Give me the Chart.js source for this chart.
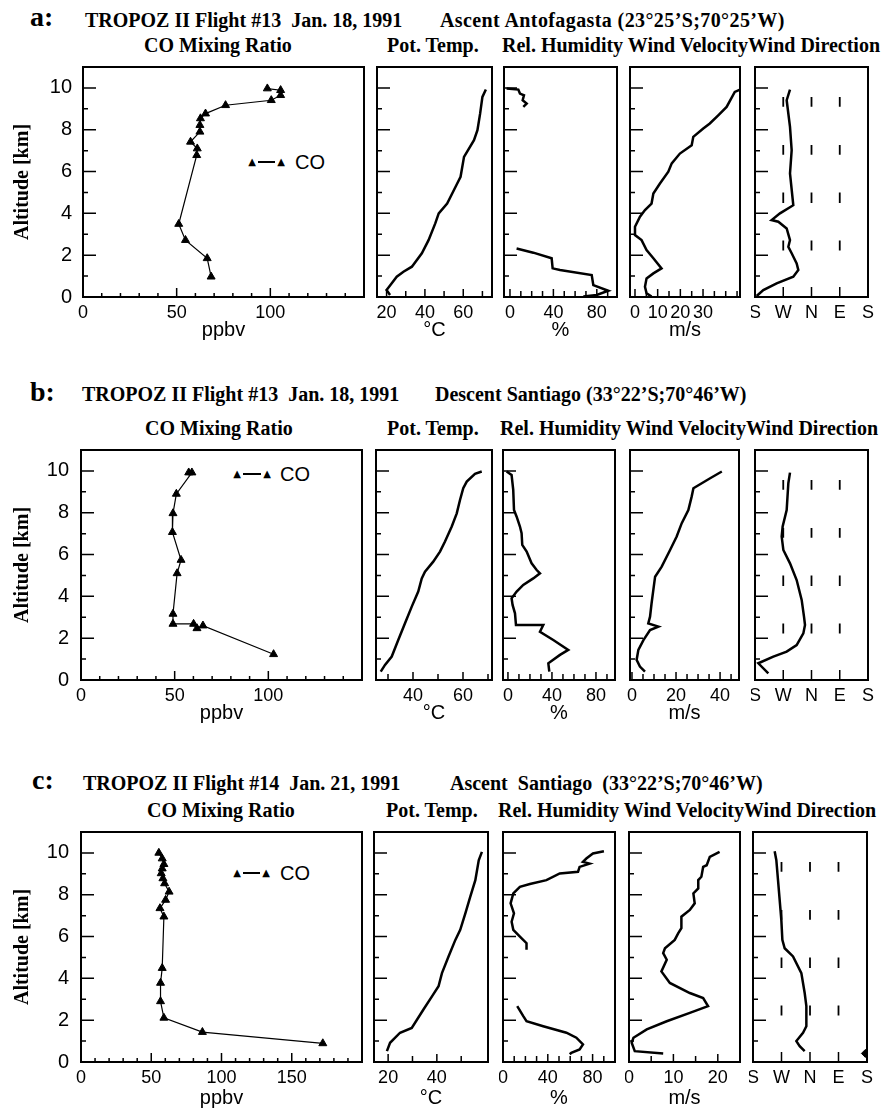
<!DOCTYPE html>
<html><head><meta charset="utf-8">
<script src="https://cdn.jsdelivr.net/npm/chart.js@4.4.0/dist/chart.umd.min.js"></script>
<style>
body{margin:0;background:#fff;width:881px;height:1114px;position:relative;overflow:hidden;}
canvas{position:absolute;}
.t{position:absolute;white-space:pre;font-family:"Liberation Serif","Times New Roman",serif;font-weight:bold;font-size:20px;line-height:20px;color:#000;}
.big{font-size:28px;line-height:28px;}
.co{position:absolute;font-family:"Liberation Sans",Arial,sans-serif;font-size:20px;line-height:20px;color:#000;}
.tri{position:absolute;width:12px;text-align:center;font-family:"DejaVu Sans",sans-serif;font-size:10px;line-height:10px;color:#000;}
.ln{position:absolute;height:1.5px;background:#000;}
</style></head><body>

<div class="t big" style="left:30px;top:3px">a:</div>
<div class="t" style="left:85px;top:10px">TROPOZ II Flight #13  Jan. 18, 1991</div>
<div class="t" style="left:440px;top:10px;letter-spacing:0.4px">Ascent Antofagasta (23°25’S;70°25’W)</div>
<div class="t" style="left:144px;top:35px">CO Mixing Ratio</div>
<div class="t" style="left:387px;top:35px">Pot. Temp.</div>
<div class="t" style="left:502px;top:35px">Rel. Humidity Wind VelocityWind Direction</div>
<div class="tri" style="left:246px;top:157px">▲</div><div class="ln" style="left:258px;width:17px;top:161px"></div><div class="tri" style="left:275px;top:157px">▲</div>
<div class="co" style="left:295px;top:152px">CO</div>

<div class="t big" style="left:30px;top:378px">b:</div>
<div class="t" style="left:82px;top:384px">TROPOZ II Flight #13  Jan. 18, 1991</div>
<div class="t" style="left:435px;top:384px">Descent Santiago (33°22’S;70°46’W)</div>
<div class="t" style="left:145px;top:418px">CO Mixing Ratio</div>
<div class="t" style="left:387px;top:418px">Pot. Temp.</div>
<div class="t" style="left:500px;top:418px">Rel. Humidity Wind VelocityWind Direction</div>
<div class="tri" style="left:231px;top:469px">▲</div><div class="ln" style="left:243px;width:18px;top:473px"></div><div class="tri" style="left:261px;top:469px">▲</div>
<div class="co" style="left:280px;top:464px">CO</div>

<div class="t big" style="left:32px;top:766px">c:</div>
<div class="t" style="left:83px;top:773px">TROPOZ II Flight #14  Jan. 21, 1991</div>
<div class="t" style="left:450px;top:773px">Ascent  Santiago  (33°22’S;70°46’W)</div>
<div class="t" style="left:147px;top:800px">CO Mixing Ratio</div>
<div class="t" style="left:386px;top:800px">Pot. Temp.</div>
<div class="t" style="left:498px;top:800px">Rel. Humidity Wind VelocityWind Direction</div>
<div class="tri" style="left:231px;top:868px">▲</div><div class="ln" style="left:243px;width:17px;top:872px"></div><div class="tri" style="left:260px;top:868px">▲</div>
<div class="co" style="left:280px;top:863px">CO</div>

<script>
// ---------------- DATA ----------------
// Altitude axis (km)
const altTicks  = [0,1,2,3,4,5,6,7,8,9,10];
const altLabels = ['0','','2','','4','','6','','8','','10'];

// Wind direction axis
const dirTicks  = [0,90,180,270,360];
const dirLabels = ['S','W','N','E','S'];
// dashed reference marks on the wind-direction panels (W, N, E)
const dirMarkDirs   = [90,180,270];
const dirMarkTop    = [9.57,7.27,5.00,2.70];
const dirMarkBottom = [9.10,6.80,4.50,2.22];

// ---- Panel a: Flight #13, Ascent Antofagasta ----
const aCO    = [98.4,105.5,105.5,100.5,76.1,65.4,62.7,62.4,62.4,57.4,61.0,60.7,51.1,54.7,66.3,68.4];
const aCOAlt = [9.97,9.89,9.65,9.41,9.17,8.77,8.54,8.22,7.90,7.42,7.10,6.78,3.49,2.72,1.85,0.97];
const aPT    = [71.8,70.0,68.8,67.4,65.6,60.4,58.6,56.0,51.6,47.2,45.4,41.9,38.4,33.2,28.8,25.3,22.6,20.0,21.8];
const aPTAlt = [9.92,9.57,8.77,7.98,7.50,6.70,5.75,5.27,4.47,4.00,3.52,2.72,2.09,1.45,1.21,0.97,0.65,0.33,0.10];
const aRH    = [-3.1,7.7,9.2,12.9,11.7,15.4,12.3,null,6.1,21.5,38.4,39.3,46.1,75.3,76.8,90.6,79.9,67.6];
const aRHAlt = [9.97,9.92,9.73,9.65,9.41,9.25,9.09,null,2.32,2.12,1.85,1.37,1.29,1.05,0.57,0.30,0.10,0.02];
const aWV    = [46.3,44.0,40.4,36.7,33.0,30.1,25.7,25.0,19.8,16.2,14.7,11.0,8.1,7.3,4.4,2.2,0,0,2.9,5.1,8.1,11.7,8.1,5.1,4.4,5.1,7.3];
const aWVAlt = [9.92,9.81,9.09,8.69,8.30,8.06,7.66,7.26,6.86,6.39,5.99,5.43,4.95,4.47,4.16,3.84,3.36,2.96,2.72,2.25,1.85,1.37,1.13,0.89,0.49,0.18,0.02];
const aWD    = [111.5,100.9,111.5,116.8,111.5,122.0,79.6,53.1,74.3,100.9,111.5,106.2,116.8,132.7,138.0,122.0,69.0,26.5,5.3];
const aWDAlt = [9.92,9.41,8.14,7.02,5.91,4.39,4.00,3.68,3.60,3.28,2.72,2.40,2.09,1.61,1.29,0.97,0.65,0.33,0.05];

// ---- Panel b: Flight #13, Descent Santiago ----
const bCO    = [57.5,59.2,50.9,49.1,48.8,53.4,51.3,49.1,49.1,60.1,61.9,65.1,102.8];
const bCOAlt = [9.92,9.92,8.90,7.97,7.07,5.74,5.10,3.16,2.68,2.68,2.47,2.60,1.23];
const bPT    = [67.5,64.8,61.5,60.1,58.8,57.5,55.5,52.8,50.8,48.1,44.8,43.5,42.1,39.5,36.8,34.1,31.5,28.8,27.1];
const bPTAlt = [9.97,9.86,9.49,9.17,8.61,7.97,7.34,6.62,6.14,5.66,5.18,4.86,4.23,3.51,2.71,1.91,1.12,0.72,0.40];
const bRH    = [-1.2,3.3,4.8,5.5,7.9,10.9,12.4,13.0,17.0,21.5,26.1,29.1,23.0,13.9,7.9,3.3,4.2,6.4,7.3,32.1,29.1,41.2,54.8,47.3,36.7,37.6];
const bRHAlt = [9.97,9.81,9.09,8.13,7.81,7.34,7.02,6.46,6.14,5.58,5.26,5.10,4.86,4.55,4.23,3.91,3.59,3.19,2.63,2.63,2.31,1.91,1.44,1.20,0.80,0.40];
const bWV    = [40.8,35.5,27.9,27.1,25.6,22.6,20.3,17.3,13.5,10.5,9.7,8.9,8.2,7.4,12.0,8.2,5.2,2.9,2.1,3.6,5.9];
const bWVAlt = [9.97,9.65,9.17,8.77,8.13,7.50,6.86,6.22,5.42,4.94,4.31,3.67,3.03,2.71,2.55,2.39,1.91,1.44,0.96,0.64,0.40];
const bWD    = [111.5,106.2,100.9,88.1,85.0,90.3,111.5,132.7,148.7,156.1,159.3,154.0,132.7,100.9,58.4,10.6,42.5];
const bWDAlt = [9.92,9.41,8.13,7.34,6.86,6.22,5.58,4.78,3.83,3.03,2.63,2.23,1.67,1.36,1.12,0.80,0.32];

// ---- Panel c: Flight #14, Ascent Santiago ----
const cCO    = [55.4,57.8,59.0,57.8,57.1,58.3,59.5,62.7,60.2,56.2,59.0,57.8,56.6,56.6,59.0,86.4,172.1];
const cCOAlt = [10.0,9.73,9.46,9.25,9.02,8.78,8.54,8.14,7.75,7.35,6.95,4.49,3.78,2.90,2.11,1.43,0.89];
const cPT    = [58.5,57.2,55.8,53.7,51.7,49.6,47.6,44.8,42.1,40.7,38.0,34.5,29.7,24.9,20.8,19.5];
const cPTAlt = [10.05,9.65,8.70,7.90,7.11,6.32,5.84,5.05,4.25,3.62,3.14,2.51,1.63,1.40,0.92,0.52];
const cRH    = [90.1,80.3,74.4,71.4,77.3,68.4,67.0,50.7,38.8,24.0,15.1,9.2,6.8,9.8,7.7,9.2,15.1,21.0,21.0,null,12.7,18.1,21.0,35.9,56.6,65.5,71.4,68.4,61.0,59.6];
const cRHAlt = [10.08,9.97,9.73,9.57,9.49,9.33,9.10,9.02,8.70,8.51,8.38,8.06,7.59,7.11,6.71,6.32,6.00,5.68,5.37,null,2.67,2.19,1.95,1.71,1.40,1.16,0.84,0.60,0.44,0.37];
const cWV    = [20.4,18.2,17.5,16.7,16.3,15.6,15.6,14.5,14.8,13.7,11.8,11.8,11.1,10.3,8.1,7.7,8.5,7.3,9.2,13.7,16.7,17.8,13.7,8.5,4.0,1.0,0.6,1.3,7.7];
const cWVAlt = [10.05,9.81,9.41,9.33,8.86,8.70,8.30,8.06,7.59,7.27,6.95,6.40,6.16,5.84,5.44,5.21,4.89,4.33,3.78,3.30,3.06,2.67,2.35,1.95,1.56,1.16,0.92,0.52,0.41];
const cWD    = [68.4,73.7,79.0,84.2,89.5,92.7,100.0,126.4,152.7,163.2,168.5,168.5,158.0,136.9,147.4,163.2];
const cWDAlt = [10.08,9.65,8.70,7.75,6.79,5.84,5.44,5.05,4.25,3.30,2.67,1.71,1.40,1.00,0.76,0.52];
const cWDSurf    = [354.9];
const cWDSurfAlt = [0.41];

// x-axis ticks and labels
const coTicksAB  = [0,10,20,30,40,50,60,70,80,90,100,110,120,130,140];
const coLabelsAB = [0,50,100];
const coTicksC   = [0,10,20,30,40,50,60,70,80,90,100,110,120,130,140,150,160,170,180,190];
const coLabelsC  = [0,50,100,150];
const ptTicksA   = [20,30,40,50,60,70];   const ptLabelsA = [20,40,60];
const ptTicksB   = [30,40,50,60,70];      const ptLabelsB = [40,60];
const ptTicksC   = [20,30,40,50];         const ptLabelsC = [20,40];
const rhTicks    = [0,10,20,30,40,50,60,70,80,90]; const rhLabels = [0,40,80];
const wvTicksAB  = [0,5,10,15,20,25,30,35,40,45];
const wvLabelsA  = [0,10,20,30];
const wvLabelsB  = [0,20,40];
const wvTicksC   = [0,5,10,15,20];        const wvLabelsC = [0,10,20];

// ---------------- RENDERING ----------------
const tickFont = {family:'"Liberation Sans", Arial, sans-serif', size:18};
const yTickFont = {family:'"Liberation Sans", Arial, sans-serif', size:20};
const unitFont = {family:'"Liberation Sans", Arial, sans-serif', size:20};
const serifBold = {family:'"Liberation Serif", "Times New Roman", serif', size:20, weight:'bold'};

function xy(xs, ys){ return xs.map((v,i)=>({x:v, y:ys[i]})); }
function profile(xs, ys){ return {data:xy(xs,ys), showLine:true, borderColor:'#000', borderWidth:2.5, pointRadius:0, spanGaps:false}; }
function coSeries(xs, ys){ return {data:xy(xs,ys), showLine:true, borderColor:'#000', borderWidth:1.2, pointStyle:'triangle', pointRadius:4.6, pointBackgroundColor:'#000', pointBorderColor:'#000', pointBorderWidth:1}; }
function dirMarks(){
  return dirMarkDirs.map(d => {
    const pts = [];
    dirMarkTop.forEach((t,i)=>{ pts.push({x:d,y:t}); pts.push({x:d,y:dirMarkBottom[i]}); pts.push({x:d,y:null}); });
    return {data:pts, showLine:true, borderColor:'#000', borderWidth:1.8, pointRadius:0, spanGaps:false};
  });
}

function innerTicksPlugin(xMajor, xMinor){
  return {
    id:'innerTicks',
    afterDraw(chart){
      const {ctx, chartArea:ca} = chart;
      const xs = chart.scales.x, ys = chart.scales.y;
      ctx.save();
      ctx.strokeStyle = '#000'; ctx.lineWidth = 1.5;
      ctx.beginPath();
      xs.ticks.forEach(t => {
        const p = xs.getPixelForValue(t.value);
        const len = (t.label !== '' && t.label != null) ? xMajor : xMinor;
        ctx.moveTo(p, ca.bottom); ctx.lineTo(p, ca.bottom - len);
      });
      ys.ticks.forEach(t => {
        const p = ys.getPixelForValue(t.value);
        const len = (t.value % 2 === 0) ? 13 : 5;
        ctx.moveTo(ca.left, p); ctx.lineTo(ca.left + len, p);
      });
      ctx.stroke();
      ctx.lineWidth = 2;
      ctx.strokeRect(ca.left, ca.top, ca.right - ca.left, ca.bottom - ca.top);
      ctx.restore();
    }
  };
}

function makePanel(box, o){
  const padL = o.padL ?? 4, padR = o.padR ?? 4, padT = 4, padB = 48;
  const w = Math.round(box.r - box.l + padL + padR), h = Math.round(box.b - box.t + padT + padB);
  const c = document.createElement('canvas');
  c.width = w; c.height = h;
  c.style.left = (box.l - padL) + 'px'; c.style.top = (box.t - padT) + 'px';
  c.style.width = w + 'px'; c.style.height = h + 'px';
  document.body.appendChild(c);
  new Chart(c, {
    type:'scatter',
    data:{datasets:o.datasets},
    options:{
      responsive:false, animation:false, devicePixelRatio:1,
      layout:{autoPadding:false, padding:{top:padT, right:padR, left:0, bottom:0}},
      plugins:{legend:{display:false}, tooltip:{enabled:false}},
      scales:{
        x:{type:'linear', min:o.xMin, max:o.xMax,
           grid:{display:false, drawTicks:false}, border:{display:false},
           afterBuildTicks: s => { s.ticks = o.xTicks.map(v => ({value:v})); },
           afterFit: s => { s.height = padB; s.paddingLeft = 0; s.paddingRight = 0; },
           ticks:{autoSkip:false, maxRotation:0, minRotation:0, padding:o.tickPad ?? 5, font:tickFont, color:'#000',
             callback: v => { const i = o.xLabelVals.indexOf(v); return i >= 0 ? (o.xLabelText ? o.xLabelText[i] : String(v)) : ''; }},
           title:{display:true, text:o.xTitle, font:unitFont, color:'#000', padding:{top:0, bottom:o.unitPad ?? 3}}
        },
        y:{type:'linear', min:0, max:11,
           grid:{display:false, drawTicks:false}, border:{display:false},
           afterBuildTicks: s => { s.ticks = altTicks.map(v => ({value:v})); },
           afterFit: s => { s.width = padL; s.paddingTop = 0; s.paddingBottom = 0; },
           ticks:{display:!!o.yAxis, autoSkip:false, padding:o.yPad ?? 11, font:yTickFont, color:'#000',
             callback: v => { const i = altTicks.indexOf(v); return i >= 0 ? altLabels[i] : ''; }},
           title:{display:!!o.yAxis, text:'Altitude [km]', font:serifBold, color:'#000', padding:{top:11, bottom:0}}
        }
      }
    },
    plugins:[innerTicksPlugin(o.xMajor ?? 9, o.xMinor ?? 4)]
  });
}

// Row a
(function(){
  const t = 67, b = 297;
  makePanel({l:83, r:364, t, b}, {padL:83, yAxis:true, xMin:0, xMax:150, xTicks:coTicksAB, xLabelVals:coLabelsAB, xTitle:'ppbv', datasets:[coSeries(aCO,aCOAlt)]});
  makePanel({l:377, r:492, t, b}, {xMin:15, xMax:75, xTicks:ptTicksA, xLabelVals:ptLabelsA, xTitle:'°C', xMajor:8, xMinor:6, datasets:[profile(aPT,aPTAlt)]});
  makePanel({l:504, r:617, t, b}, {xMin:-5.5, xMax:98.6, xTicks:rhTicks, xLabelVals:rhLabels, xTitle:'%', xMajor:8, xMinor:6, datasets:[profile(aRH,aRHAlt)]});
  makePanel({l:630, r:740, t, b}, {xMin:-2.2, xMax:46.3, xTicks:wvTicksAB, xLabelVals:wvLabelsA, xTitle:'m/s', xMajor:8, xMinor:6, datasets:[profile(aWV,aWVAlt)]});
  makePanel({l:755, r:868, t, b}, {padR:12, xMin:0, xMax:360, xTicks:dirTicks, xLabelVals:dirTicks, xLabelText:dirLabels, xTitle:'', xMajor:10, datasets:[profile(aWD,aWDAlt), ...dirMarks()]});
})();
// Row b
(function(){
  const t = 450, b = 680;
  makePanel({l:81, r:362, t, b}, {padL:81, yAxis:true, yPad:12, xMin:0, xMax:150, xTicks:coTicksAB, xLabelVals:coLabelsAB, xTitle:'ppbv', datasets:[coSeries(bCO,bCOAlt)]});
  makePanel({l:376, r:492, t, b}, {xMin:25.2, xMax:71.6, xTicks:ptTicksB, xLabelVals:ptLabelsB, xTitle:'°C', xMajor:8, xMinor:6, datasets:[profile(bPT,bPTAlt)]});
  makePanel({l:503, r:615, t, b}, {xMin:-4.5, xMax:97.3, xTicks:rhTicks, xLabelVals:rhLabels, xTitle:'%', xMajor:8, xMinor:6, datasets:[profile(bRH,bRHAlt)]});
  makePanel({l:630, r:739, t, b}, {xMin:-0.9, xMax:48.6, xTicks:wvTicksAB, xLabelVals:wvLabelsB, xTitle:'m/s', xMajor:8, xMinor:6, datasets:[profile(bWV,bWVAlt)]});
  makePanel({l:755, r:868, t, b}, {padR:12, xMin:0, xMax:360, xTicks:dirTicks, xLabelVals:dirTicks, xLabelText:dirLabels, xTitle:'', xMajor:10, datasets:[profile(bWD,bWDAlt), ...dirMarks()]});
})();
// Row c
(function(){
  const t = 832, b = 1062;
  makePanel({l:81, r:362, t, b}, {padL:81, yAxis:true, yPad:12, unitPad:0, xMin:0, xMax:200, xTicks:coTicksC, xLabelVals:coLabelsC, xTitle:'ppbv', datasets:[coSeries(cCO,cCOAlt)]});
  makePanel({l:374, r:488, t, b}, {unitPad:0, xMin:14.2, xMax:61, xTicks:ptTicksC, xLabelVals:ptLabelsC, xTitle:'°C', xMajor:8, xMinor:6, datasets:[profile(cPT,cPTAlt)]});
  makePanel({l:503, r:615, t, b}, {unitPad:0, xMin:0, xMax:100, xTicks:rhTicks, xLabelVals:rhLabels, xTitle:'%', xMajor:8, xMinor:6, datasets:[profile(cRH,cRHAlt)]});
  makePanel({l:629, r:740, t, b}, {unitPad:0, xMin:0, xMax:25, xTicks:wvTicksC, xLabelVals:wvLabelsC, xTitle:'m/s', xMajor:8, xMinor:6, datasets:[profile(cWV,cWVAlt)]});
  makePanel({l:753, r:867, t, b}, {padR:12, unitPad:0, xMin:0, xMax:360, xTicks:dirTicks, xLabelVals:dirTicks, xLabelText:dirLabels, xTitle:'', xMajor:10,
    datasets:[profile(cWD,cWDAlt), ...dirMarks(),
      {data:xy(cWDSurf,cWDSurfAlt), showLine:false, pointStyle:'rectRot', pointRadius:4, pointBackgroundColor:'#000', pointBorderColor:'#000'}]});
})();
</script>
</body></html>
